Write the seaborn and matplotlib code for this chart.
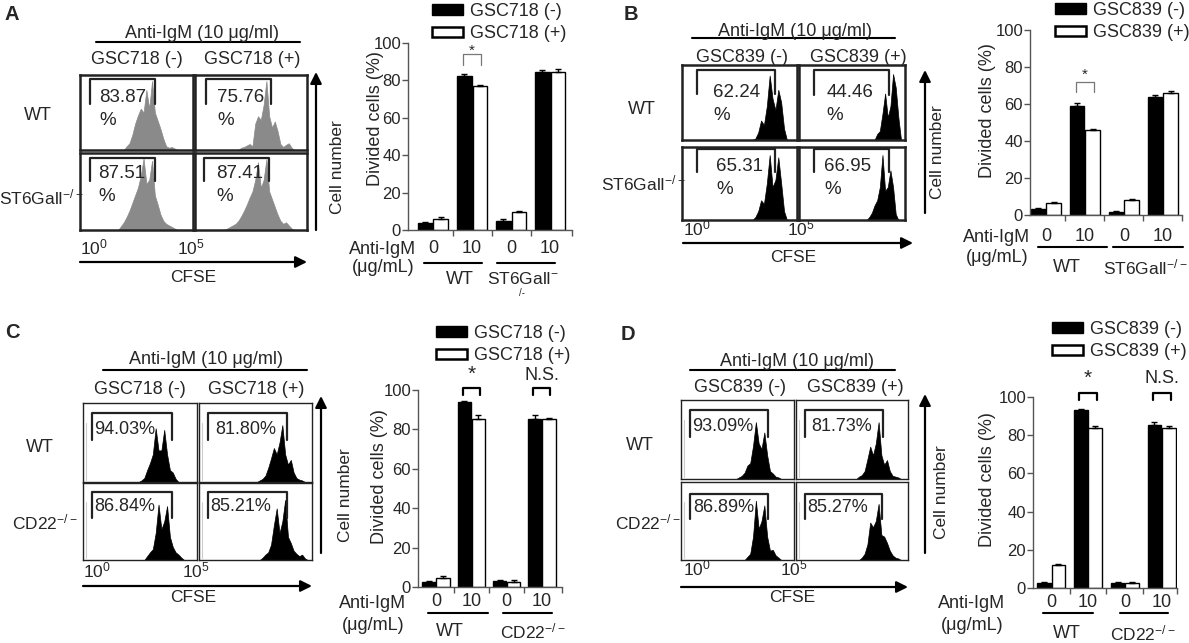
import numpy as np
import pandas as pd
import matplotlib
matplotlib.use("Agg")
import matplotlib.pyplot as plt
from matplotlib.patches import Patch
import seaborn as sns

# --- data ---
groups = ["WT 0", "WT 10", "KO 0", "KO 10"]
dose_labels = ["0", "10", "0", "10"]

# divided cells (%), black = (-), white = (+)
a_minus = [3.6, 82.5, 5.0, 84.3]
a_plus = [5.7, 77.1, 9.5, 84.6]
a_minus_err = [0.8, 0.8, 1.0, 1.5]
a_plus_err = [1.0, 0.5, 0.5, 1.5]

b_minus = [3.1, 58.9, 1.6, 64.0]
b_plus = [6.3, 45.9, 8.1, 65.8]
b_minus_err = [0.6, 1.5, 0.5, 1.0]
b_plus_err = [0.7, 0.6, 0.6, 1.0]

c_minus = [2.5, 94.0, 3.1, 85.3]
c_plus = [4.6, 85.3, 2.5, 85.3]
c_minus_err = [0.4, 0.5, 0.5, 1.8]
c_plus_err = [1.2, 1.8, 0.8, 0.5]

d_minus = [2.6, 93.4, 2.6, 85.5]
d_plus = [12.2, 83.8, 2.6, 83.8]
d_minus_err = [0.4, 0.4, 0.3, 1.5]
d_plus_err = [0.6, 1.0, 0.5, 0.8]

# gated percentages (WT -, WT +, KO -, KO +)
pct_a = ["83.87", "75.76", "87.51", "87.41"]
pct_b = ["62.24", "44.46", "65.31", "66.95"]
pct_c = ["94.03%", "81.80%", "86.84%", "85.21%"]
pct_d = ["93.09%", "81.73%", "86.89%", "85.27%"]

# CFSE histograms: (first bin, relative cell counts), 40 bins per plot
N_BINS = 40
hist_a = [
    (16, [0.05, 0.09, 0.2, 0.35, 0.46, 0.55, 0.5, 0.8, 0.55, 0.92, 0.5, 0.39, 0.28, 0.15, 0.05, 0.03, 0.04, 0.02]),
    (16, [0.03, 0.04, 0.06, 0.08, 0.05, 0.35, 0.45, 0.4, 0.6, 0.92, 0.45, 0.3, 0.38, 0.25, 0.08, 0.04, 0.07, 0.09, 0.03]),
    (14, [0.05, 0.1, 0.17, 0.25, 0.35, 0.45, 0.55, 0.7, 0.93, 0.6, 0.65, 0.9, 0.45, 0.33, 0.2, 0.12, 0.08, 0.06, 0.04, 0.02]),
    (11, [0.02, 0.04, 0.06, 0.08, 0.12, 0.18, 0.25, 0.33, 0.42, 0.5, 0.65, 0.88, 0.55, 0.65, 0.92, 0.5, 0.4, 0.3, 0.2, 0.12, 0.08, 0.1, 0.06, 0.02]),
]
hist_b = [
    (25, [0.02, 0.1, 0.26, 0.2, 0.45, 0.86, 0.55, 0.4, 0.67, 0.5, 0.15]),
    (29, [0.08, 0.12, 0.35, 0.62, 0.3, 0.45, 0.88, 0.7, 0.3]),
    (25, [0.04, 0.12, 0.27, 0.22, 0.5, 0.89, 0.45, 0.55, 0.86, 0.5, 0.12]),
    (26, [0.04, 0.1, 0.2, 0.27, 0.45, 0.89, 0.4, 0.45, 0.68, 0.45, 0.08]),
]
hist_c = [
    (20, [0.02, 0.05, 0.15, 0.24, 0.35, 0.68, 0.4, 0.4, 0.66, 0.35, 0.15, 0.12, 0.04]),
    (21, [0.02, 0.04, 0.08, 0.18, 0.3, 0.43, 0.35, 0.5, 0.72, 0.35, 0.22, 0.28, 0.12, 0.05, 0.03, 0.02]),
    (22, [0.05, 0.1, 0.14, 0.35, 0.72, 0.4, 0.5, 0.7, 0.3, 0.17, 0.1, 0.07, 0.03]),
    (22, [0.03, 0.07, 0.1, 0.2, 0.45, 0.67, 0.35, 0.5, 0.78, 0.3, 0.22, 0.12, 0.08, 0.05, 0.07, 0.02]),
]
hist_d = [
    (20, [0.02, 0.04, 0.08, 0.17, 0.2, 0.42, 0.72, 0.45, 0.38, 0.59, 0.3, 0.1, 0.07, 0.03, 0.02]),
    (22, [0.03, 0.05, 0.1, 0.25, 0.41, 0.3, 0.45, 0.72, 0.3, 0.18, 0.24, 0.1, 0.04, 0.03, 0.02]),
    (23, [0.04, 0.08, 0.3, 0.76, 0.4, 0.5, 0.7, 0.3, 0.12, 0.13, 0.06, 0.03]),
    (23, [0.03, 0.08, 0.2, 0.48, 0.42, 0.5, 0.72, 0.32, 0.3, 0.22, 0.12, 0.06, 0.03, 0.02]),
]

# --- layout (pixels, origin top-left) ---
W, H = 1189, 643
FS = 13         # general text
FS_TICK = 12    # bar chart tick labels
FS_PCT = 13.5   # gate percentages
KO_ST6 = "ST6GalI$^{-/-}$"
KO_CD22 = "CD22$^{-/-}$"

# brackets: (category, top, leg bottom, label, label y, label va, bold style)
panels = [
    dict(letter="A", letter_xy=(12, 15), cells=("GSC718 (-)", "GSC718 (+)"),
         minus=a_minus, plus=a_plus, minus_err=a_minus_err, plus_err=a_plus_err,
         pct=pct_a, hists=hist_a, hist_color="#8a8a8a", frame_lw=1.8, two_line=True,
         header_xy=(202, 33), header_line=(96, 300, 42), col_xy=((137, 60), (252, 60)),
         box_x=((80, 193), (195, 307)), box_y=((75, 150), (153, 230)),
         row_xy=((38, 115), (41, 197)), ko=KO_ST6,
         exp_xy=((80, 247), (177, 247)), cfse_arrow=(80, 307, 262), cfse_xy=(193, 278),
         cell_arrow=(316, 230, 72), cell_xy=(337, 167), ylab_xy=(376, 119),
         gates=((0.09, 0.665, 0.945, 0.62), (0.10, 0.68, 0.945, 0.62),
                (0.09, 0.665, 0.94, 0.63), (0.08, 0.66, 0.94, 0.63)),
         texts=((0.17, 0.70, 0.39), (0.20, 0.70, 0.39), (0.16, 0.74, 0.44), (0.19, 0.74, 0.44)),
         bar_box=(408, 43, 572, 230), xlim=(-0.64, 3.56), tick_pad=7,
         legend_xy=(432, 3), anti_xy=(383, 250), ug_xy=(383, 268),
         underlines=((424, 482), (497, 555)), under_y=263,
         grp_xy=((460, 279), (523, 279)), ko_bar="ST6GalI$^{-}$", ko_wrap=(522, 293),
         brackets=((1, 94, 88, "*", 99.5, "top", False),)),
    dict(letter="B", letter_xy=(631, 15), cells=("GSC839 (-)", "GSC839 (+)"),
         minus=b_minus, plus=b_plus, minus_err=b_minus_err, plus_err=b_plus_err,
         pct=pct_b, hists=hist_b, hist_color="black", frame_lw=1.8, two_line=True,
         header_xy=(795, 31), header_line=(692, 895, 38), col_xy=((742, 57), (858, 57)),
         box_x=((682, 797), (799, 905)), box_y=((65, 140), (147, 220)),
         row_xy=((642, 110), (643, 183)), ko=KO_ST6,
         exp_xy=((683, 228), (787, 228)), cfse_arrow=(683, 913, 243), cfse_xy=(793, 257),
         cell_arrow=(925, 213, 70), cell_xy=(938, 152), ylab_xy=(987, 111),
         gates=((0.13, 0.81, 0.94, 0.61), (0.145, 0.85, 0.94, 0.6),
                (0.13, 0.81, 0.97, 0.66), (0.14, 0.85, 0.97, 0.66)),
         texts=((0.27, 0.63, 0.33), (0.26, 0.63, 0.33), (0.30, 0.73, 0.42), (0.24, 0.73, 0.42)),
         bar_box=(1030, 30, 1182, 215), xlim=(-0.41, 3.49), tick_pad=9,
         legend_xy=(1055, 2), anti_xy=(997, 237), ug_xy=(997, 257),
         underlines=((1038, 1107), (1113, 1183)), under_y=247,
         grp_xy=((1067, 267), (1145, 267)), ko_bar=KO_ST6, ko_wrap=None,
         brackets=((1, 72, 66.5, "*", 79.5, "top", False),)),
    dict(letter="C", letter_xy=(12, 333), cells=("GSC718 (-)", "GSC718 (+)"),
         minus=c_minus, plus=c_plus, minus_err=c_minus_err, plus_err=c_plus_err,
         pct=pct_c, hists=hist_c, hist_color="black", frame_lw=1.0, two_line=False,
         header_xy=(206, 360), header_line=(103, 307, 370), col_xy=((140, 390), (256, 390)),
         box_x=((83, 197), (199, 312)), box_y=((403, 482), (483, 560)),
         row_xy=((40, 447), (45, 522)), ko=KO_CD22,
         exp_xy=((83, 570), (182, 570)), cfse_arrow=(83, 312, 586), cfse_xy=(193, 598),
         cell_arrow=(321, 553, 396), cell_xy=(345, 495), ylab_xy=(380, 477),
         gates=((0.08, 0.78, 0.87, 0.53), (0.08, 0.78, 0.87, 0.53),
                (0.08, 0.78, 0.88, 0.54), (0.08, 0.78, 0.88, 0.54)),
         texts=((0.10, 0.66), (0.14, 0.66), (0.10, 0.69), (0.10, 0.69)),
         bar_box=(418, 390, 562, 587), xlim=(-0.51, 3.57), tick_pad=4,
         legend_xy=(436, 325), anti_xy=(373, 603), ug_xy=(373, 625),
         underlines=((428, 488), (503, 552)), under_y=613,
         grp_xy=((450, 631), (533, 631)), ko_bar=KO_CD22, ko_wrap=None,
         brackets=((1, 101, 97.5, "*", 103, "bottom", True),
                   (3, 101, 97.5, "N.S.", 103, "bottom", True))),
    dict(letter="D", letter_xy=(628, 335), cells=("GSC839 (-)", "GSC839 (+)"),
         minus=d_minus, plus=d_plus, minus_err=d_minus_err, plus_err=d_plus_err,
         pct=pct_d, hists=hist_d, hist_color="black", frame_lw=1.0, two_line=False,
         header_xy=(797, 362), header_line=(690, 895, 370), col_xy=((740, 387), (855, 387)),
         box_x=((681, 794), (796, 908)), box_y=((400, 479), (482, 560)),
         row_xy=((640, 445), (648, 522)), ko=KO_CD22,
         exp_xy=((683, 568), (780, 568)), cfse_arrow=(681, 908, 587), cfse_xy=(792, 597),
         cell_arrow=(925, 553, 394), cell_xy=(942, 492), ylab_xy=(988, 480),
         gates=((0.08, 0.77, 0.87, 0.53), (0.08, 0.78, 0.87, 0.53),
                (0.08, 0.77, 0.85, 0.52), (0.08, 0.77, 0.85, 0.52)),
         texts=((0.10, 0.67), (0.14, 0.67), (0.11, 0.67), (0.10, 0.67)),
         bar_box=(1033, 397, 1177, 588), xlim=(-0.49, 3.41), tick_pad=4,
         legend_xy=(1052, 321), anti_xy=(972, 603), ug_xy=(972, 625),
         underlines=((1043, 1093), (1120, 1168)), under_y=613,
         grp_xy=((1067, 633), (1143, 633)), ko_bar=KO_CD22, ko_wrap=None,
         brackets=((1, 102, 98.4, "*", 105, "bottom", True),
                   (3, 102, 98.4, "N.S.", 105, "bottom", True))),
]

sns.set_style("white")
plt.rcParams["font.family"] = ["Liberation Sans", "DejaVu Sans"]
plt.rcParams["mathtext.fontset"] = "custom"
plt.rcParams["mathtext.rm"] = "Liberation Sans"
plt.rcParams["mathtext.it"] = "Liberation Sans"
plt.rcParams["mathtext.bf"] = "Liberation Sans:bold"

fig = plt.figure(figsize=(W / 100, H / 100), dpi=100)
ov = fig.add_axes([0, 0, 1, 1], zorder=10)
ov.set_xlim(0, W)
ov.set_ylim(H, 0)
ov.axis("off")
ov.patch.set_alpha(0)


def px_axes(x0, y0, x1, y1):
    return fig.add_axes([x0 / W, 1 - y1 / H, (x1 - x0) / W, (y1 - y0) / H])


def txt(xy, s, size=FS, **kw):
    kw.setdefault("ha", "center")
    kw.setdefault("va", "center")
    ov.text(xy[0], xy[1], s, fontsize=size, **kw)


def arrow(start, end):
    ov.annotate("", xy=end, xytext=start,
                arrowprops=dict(arrowstyle="-|>", color="black", lw=1.6,
                                mutation_scale=17, shrinkA=0, shrinkB=0))


for p in panels:
    # --- flow histograms ---
    txt(p["letter_xy"], p["letter"], size=14.5, weight="bold")
    txt(p["header_xy"], "Anti-IgM (10 μg/ml)")
    x0, x1, y = p["header_line"]
    ov.plot([x0, x1], [y, y], color="black", lw=1.5)
    for xy, lab in zip(p["col_xy"], p["cells"]):
        txt(xy, lab)
    txt(p["row_xy"][0], "WT")
    txt(p["row_xy"][1], p["ko"], size=FS - 0.5)

    for i in range(4):
        r, c = divmod(i, 2)
        bx0, bx1 = p["box_x"][c]
        by0, by1 = p["box_y"][r]
        ax = px_axes(bx0, by0, bx1, by1)
        start, heights = p["hists"][i]
        hdf = pd.DataFrame({"cfse": start + np.arange(len(heights)) + 0.5,
                            "count": heights})
        sns.histplot(data=hdf, x="cfse", weights="count", bins=N_BINS,
                     binrange=(0, N_BINS), element="poly", fill=True,
                     color=p["hist_color"], alpha=1, linewidth=0.5, ax=ax)
        ax.set_xlim(0, N_BINS)
        ax.set_ylim(0, 1)
        ax.set_xticks([])
        ax.set_yticks([])
        ax.set_xlabel("")
        ax.set_ylabel("")
        for sp in ax.spines.values():
            sp.set_color("#222222")
            sp.set_linewidth(p["frame_lw"])
        if not p["two_line"]:
            ax.axvline(0.9, 0.03, 0.75, color="#cccccc", lw=0.8)
        gx0, gx1, gtop, gbot = p["gates"][i]
        ax.plot([gx0, gx0, gx1, gx1], [gbot, gtop, gtop, gbot], transform=ax.transAxes,
                color="#222222", lw=1.6, clip_on=False)
        t = p["texts"][i]
        if p["two_line"]:
            ax.text(t[0], t[1], p["pct"][i], transform=ax.transAxes, fontsize=FS_PCT, va="center")
            ax.text(t[0], t[2], "%", transform=ax.transAxes, fontsize=FS_PCT, va="center")
        else:
            ax.text(t[0], t[1], p["pct"][i], transform=ax.transAxes, fontsize=FS_PCT - 0.5,
                    va="center")

    txt(p["exp_xy"][0], "10$^{0}$", size=FS - 0.5, ha="left")
    txt(p["exp_xy"][1], "10$^{5}$", size=FS - 0.5, ha="left")
    ax0, ax1, ay = p["cfse_arrow"]
    arrow((ax0, ay), (ax1, ay))
    txt(p["cfse_xy"], "CFSE", size=FS - 0.5)
    cx, cy0, cy1 = p["cell_arrow"]
    arrow((cx, cy0), (cx, cy1))
    txt(p["cell_xy"], "Cell number", size=FS - 0.5, rotation=90)

    # --- bar chart ---
    df = pd.DataFrame({
        "group": groups * 2,
        "series": ["minus"] * 4 + ["plus"] * 4,
        "value": p["minus"] + p["plus"],
    })
    bx = px_axes(*p["bar_box"])
    sns.barplot(data=df, x="group", y="value", hue="series", order=groups,
                hue_order=["minus", "plus"], palette={"minus": "black", "plus": "white"},
                saturation=1, edgecolor="black", linewidth=1, width=0.8, gap=0.06,
                errorbar=None, legend=False, ax=bx)
    for cont, err in zip(bx.containers, [p["minus_err"], p["plus_err"]]):
        xs = [b.get_x() + b.get_width() / 2 for b in cont]
        ys = [b.get_height() for b in cont]
        bx.errorbar(xs, ys, yerr=[np.zeros(4), err], fmt="none", ecolor="black",
                    elinewidth=1, capsize=2, capthick=1)
    bx.set_xlim(*p["xlim"])
    bx.set_ylim(0, 100)
    bx.set_yticks(range(0, 101, 20))
    bx.set_xticks(range(4))
    bx.set_xticklabels(dose_labels)
    bx.set_xticks([0.5, 1.5, 2.5, p["xlim"][1]], minor=True)
    bx.tick_params(axis="x", which="major", length=0, pad=p["tick_pad"], labelsize=FS)
    bx.tick_params(axis="x", which="minor", length=4, width=1, direction="out",
                   bottom=True, color="#555555")
    bx.tick_params(axis="y", length=4, width=1, direction="out", left=True,
                   labelsize=FS_TICK, pad=1, color="#555555")
    bx.set_xlabel("")
    bx.set_ylabel("")
    bx.patch.set_alpha(0)
    for side in ("top", "right"):
        bx.spines[side].set_visible(False)
    for side in ("left", "bottom"):
        bx.spines[side].set_color("#555555")
        bx.spines[side].set_linewidth(1)
    txt(p["ylab_xy"], "Divided cells (%)", rotation=90)

    for cat, ytop, ybot, lab, ylab, lab_va, strong in p["brackets"]:
        bx.plot([cat - 0.24, cat - 0.24, cat + 0.24, cat + 0.24], [ybot, ytop, ytop, ybot],
                color="black" if strong else "#777777", lw=1.6 if strong else 0.9,
                clip_on=False)
        bx.text(cat, ylab, lab, ha="center", va=lab_va,
                fontsize=(15 if lab == "*" else FS) if strong else 11)

    handles = [Patch(facecolor="black", edgecolor="black"),
               Patch(facecolor="white", edgecolor="black", linewidth=1.8)]
    bx.legend(handles, list(p["cells"]), loc="upper left", frameon=False,
              bbox_to_anchor=(p["legend_xy"][0] / W, 1 - p["legend_xy"][1] / H),
              bbox_transform=fig.transFigure, fontsize=FS, handlelength=1.7,
              handleheight=0.55, handletextpad=0.4, labelspacing=0.3,
              borderpad=0, borderaxespad=0)

    txt(p["anti_xy"], "Anti-IgM")
    txt(p["ug_xy"], "(μg/mL)")
    for ux0, ux1 in p["underlines"]:
        ov.plot([ux0, ux1], [p["under_y"], p["under_y"]], color="black", lw=1.5)
    txt(p["grp_xy"][0], "WT")
    txt(p["grp_xy"][1], p["ko_bar"], size=FS - 0.5)
    if p["ko_wrap"]:
        txt(p["ko_wrap"], "/-", size=7)

fig.savefig("out.png", dpi=100)
